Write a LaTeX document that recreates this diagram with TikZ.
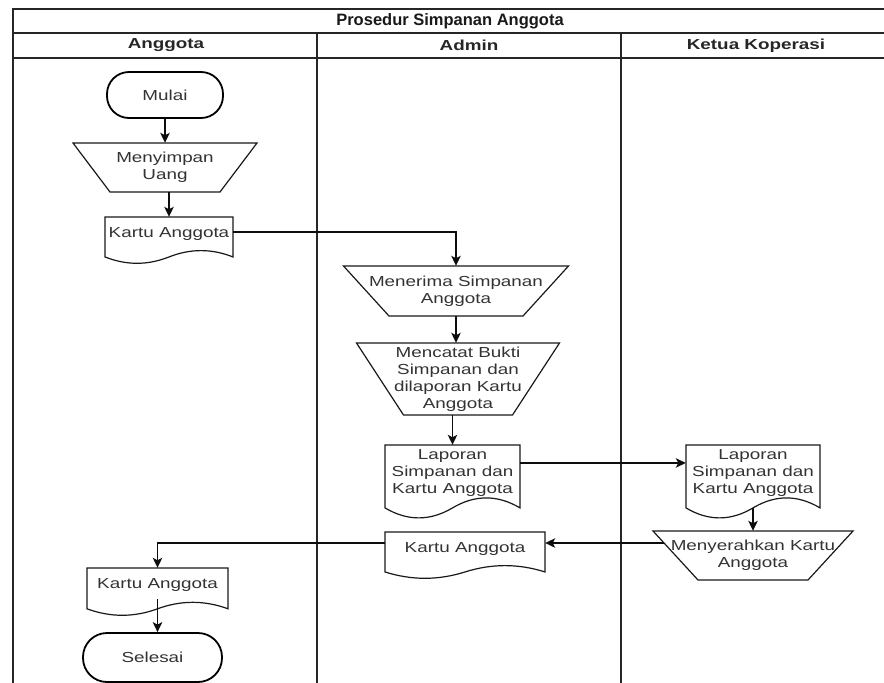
\documentclass[tikz,border=0pt]{standalone}
\usepackage{fontspec}
\setmainfont{Liberation Sans}[FakeStretch=1.3]
\newfontfamily\titlefam{Liberation Sans}
\usetikzlibrary{arrows.meta,calc}
\newcommand\nodefont{\fontsize{14.5}{17}\selectfont}
\newcommand\headfont{\fontsize{14.5}{17}\selectfont\bfseries}
\newcommand\titlefont{\titlefam\fontsize{16.5}{19}\selectfont\bfseries}
\tikzset{
  lane/.style={line width=1.4pt, draw=black!85},
  shp/.style={line width=1.2pt, draw=black!90, fill=white},
  term/.style={draw=black, fill=white, line width=1.8pt, rounded corners=22pt, font=\nodefont, text=black!80},
  txt/.style={font=\nodefont, align=center, text=black!80, inner sep=0pt},
  head/.style={font=\headfont, text=black!85, inner sep=0pt},
  ttl/.style={font=\titlefont, text=black!90, inner sep=0pt},
  body/.style={inner sep=0pt},
  arr/.style={line width=1.35pt, draw=black!95, -{Stealth[length=10pt,width=9.5pt,inset=2.5pt]}},
}
\newcommand\docshape[6]{% name, L, R, T, h, text
  \draw[shp] (#2,#4) -- (#3,#4) -- (#3,{#4+0.85*#5})
    .. controls ({#2+0.8333*(#3-#2)},{#4+0.67*#5}) and ({#2+0.6667*(#3-#2)},{#4+0.67*#5}) .. ({#2+0.5*(#3-#2)},{#4+0.85*#5})
    .. controls ({#2+0.3333*(#3-#2)},{#4+1.03*#5}) and ({#2+0.1667*(#3-#2)},{#4+1.03*#5}) .. (#2,{#4+0.85*#5}) -- cycle;
  \node[body, minimum width={#3-#2}, minimum height={0.85*#5}] (#1) at ({(#2+#3)/2},{#4+0.425*#5}) {};
  \node[txt] (#1-t) at ([yshift=3pt]#1.center) {#6};
}
\newcommand\trapshape[7]{% name, cx, T, B, halftop, halfbot, text
  \draw[shp] ({#2-#5},#3) -- ({#2+#5},#3) -- ({#2+#6},#4) -- ({#2-#6},#4) -- cycle;
  \coordinate (#1-tl) at ({#2-#5},#3);
  \coordinate (#1-bl) at ({#2-#6},#4);
  \node[body, minimum width={2*#6}, minimum height={#4-#3}] (#1) at (#2,{(#3+#4)/2}) {};
  \node[txt] (#1-t) at (#1.center) {#7};
}
\begin{document}
\begin{tikzpicture}[x=1pt,y=-1pt]
\useasboundingbox (0,0) rectangle (884,683);
% frame and lanes
\draw[lane] (13,683) -- (13,9) -- (884,9);
\draw[lane] (13,33) -- (884,33);
\draw[lane] (13,58) -- (884,58);
\draw[lane] (317,33) -- (317,683);
\draw[lane] (621,33) -- (621,683);
\node[ttl] (title) at (450,21) {Prosedur Simpanan Anggota};
\node[head] (hA) at (166,45.5) {Anggota};
\node[head] (hB) at (469,45.5) {Admin};
\node[head] (hC) at (756,45.5) {Ketua Koperasi};
% shapes
\node[term, minimum width=116pt, minimum height=46pt] (mulai) at (165,95) {Mulai};
\trapshape{menyimpan}{165}{143}{192}{92}{55}{Menyimpan\\Uang}
\docshape{kartu1}{105}{233}{217}{47}{Kartu Anggota}
\trapshape{menerima}{456}{266}{316}{112.5}{67}{Menerima Simpanan\\Anggota}
\trapshape{mencatat}{458}{343}{415}{101.5}{54.5}{Mencatat Bukti\\Simpanan dan\\dilaporan Kartu\\Anggota}
\docshape{laporan}{385}{520}{445}{74}{Laporan\\Simpanan dan\\Kartu Anggota}
\docshape{ketua}{686}{820}{445}{74}{Laporan\\Simpanan dan\\Kartu Anggota}
\trapshape{menyerahkan}{753}{531}{580}{100}{55}{Menyerahkan Kartu\\Anggota}
\docshape{kartu2}{385}{545}{532}{47}{Kartu Anggota}
\docshape{kartu3}{87}{228}{568}{48}{Kartu Anggota}
\node[term, minimum width=139pt, minimum height=49pt, rounded corners=24pt] (selesai) at (152.5,657.5) {Selesai};
% connectors
\draw[arr] (mulai.south) -- (menyimpan.north);
\draw[arr] (kartu1.north |- menyimpan.south) -- (kartu1.north);
\draw[arr] ([yshift=5pt]kartu1.east) -| (menerima.north);
\draw[arr] (menerima.south) -- (menerima.south |- mencatat.north);
\draw[arr] (laporan.north |- mencatat.south) -- (laporan.north);
\draw[arr] ([yshift=13.5pt]laporan.east) -- ([yshift=13.5pt]ketua.west);
\draw[arr] (ketua.south) -- (ketua.south |- menyerahkan.north);
\coordinate (mL) at ($(menyerahkan-tl)!0.245!(menyerahkan-bl)$);
\draw[arr] (mL) -- (mL -| kartu2.east);
\draw[arr] (mL -| kartu2.west) -| (kartu3.north);
\draw[arr] ([yshift=10pt]kartu3.south) -- (kartu3.south |- selesai.north);
\end{tikzpicture}
\end{document}
